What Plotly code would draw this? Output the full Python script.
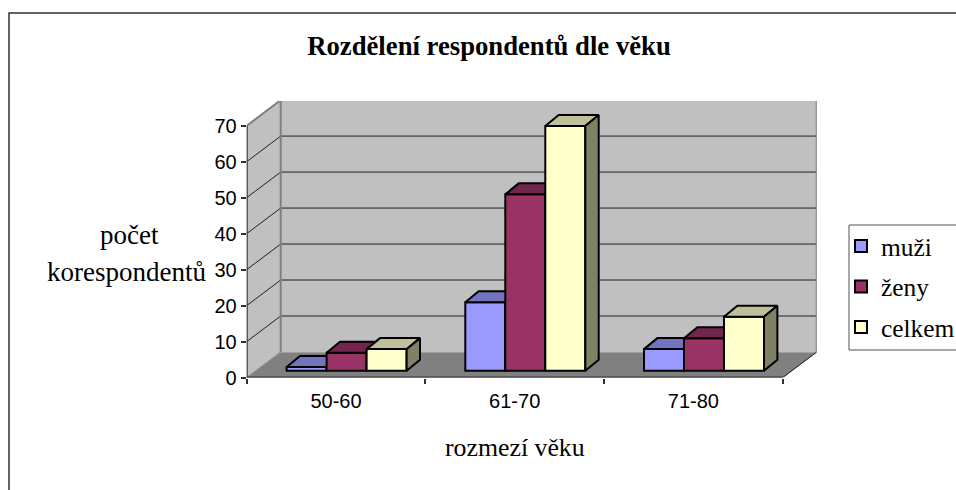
import plotly.graph_objects as go

# --- data ---
categories = ["50-60", "61-70", "71-80"]
muzi = [1, 19, 6]
zeny = [5, 49, 9]
celkem = [6, 68, 15]
series_names = ["muži", "ženy", "celkem"]
y_ticks = [0, 10, 20, 30, 40, 50, 60, 70]

# --- geometry / style ---
W, H = 956, 490
LEFT, RIGHT_FRONT, RIGHT_BACK = 246.7, 782.7, 816.7
BOTTOM, TOP_70, TOP_BACK = 377.6, 125.7, 101.0
CAT_PX = (RIGHT_FRONT - LEFT) / 3
UNIT_PX = (BOTTOM - TOP_70) / 70
DX = (RIGHT_BACK - RIGHT_FRONT) / CAT_PX      # depth of the box in category units
DY = 25.6 / UNIT_PX                           # depth of the box in value units
BAR_W = 40 / CAT_PX
BAR_SHIFT_X = 10.6 / CAT_PX
BAR_BASE = 6.9 / UNIT_PX
BAR_DX = 13.4 / CAT_PX
BAR_DY = 11 / UNIT_PX
X0, X1 = -0.5, 2.5
Y_TOP = 70
X_RANGE = [X0, X1 + DX]
Y_RANGE = [0, (BOTTOM - TOP_BACK) / UNIT_PX]
SERIF = "Liberation Serif"
SANS = "Liberation Sans"
front_cols = ["#9999FF", "#993366", "#FFFFCC"]
top_cols = ["#7373BF", "#73264D", "#BFBF99"]
side_cols = ["#4D4D80", "#4D1A33", "#808066"]
WALL, FLOOR, EDGE = "#C0C0C0", "#808080", "#808080"

fig = go.Figure()


def poly(xs, ys, fill=None, line="black", width=1.0, xa="x", ya="y"):
    fig.add_trace(go.Scatter(
        x=xs, y=ys, mode="lines", xaxis=xa, yaxis=ya, showlegend=False,
        hoverinfo="skip", cliponaxis=False,
        fill="toself" if fill else None, fillcolor=fill,
        line=dict(color=line, width=width),
    ))


# walls and floor on the main axes
poly([X0, X0 + DX, X1 + DX, X1, X0], [0, DY, DY, 0, 0], FLOOR, FLOOR, 1)
poly([X0, X0 + DX, X0 + DX, X0, X0], [0, DY, Y_TOP + DY, Y_TOP, 0], WALL, WALL, 1)
poly([X0 + DX, X1 + DX, X1 + DX, X0 + DX, X0 + DX], [DY, DY, Y_TOP + DY, Y_TOP + DY, DY], WALL, WALL, 1)
for v in y_ticks[1:-1]:
    poly([X0, X0 + DX, X1 + DX], [v, v + DY, v + DY], None, "#202020", 1)
# wall edges
poly([X0, X0 + DX, X1 + DX, X1 + DX], [Y_TOP, Y_TOP + DY, Y_TOP + DY, DY], None, EDGE, 2)
poly([X0 + DX, X0 + DX], [DY, Y_TOP + DY], None, EDGE, 2)
poly([X0, X0 + DX], [0, DY], None, EDGE, 1)
poly([X1, X1 + DX], [0, DY], None, "#202020", 1)
# axis lines
poly([X0, X0, X1], [Y_TOP, 0, 0], None, "#303030", 2)

# bars, one overlaid pair of axes per series so that later ones hide earlier faces
all_vals = [muzi, zeny, celkem]
for s, vals in enumerate(all_vals):
    xa, ya = f"x{s + 2}", f"y{s + 2}"
    xpos = [i + BAR_SHIFT_X + (s - 1) * BAR_W for i in range(len(categories))]
    fig.add_trace(go.Bar(
        x=xpos, y=vals, base=BAR_BASE, width=BAR_W, name=series_names[s],
        xaxis=xa, yaxis=ya, legendgroup=series_names[s],
        marker=dict(color=front_cols[s], line=dict(color="black", width=2)),
    ))
    for xc, v in zip(xpos, vals):
        l, r, b, t = xc - BAR_W / 2, xc + BAR_W / 2, BAR_BASE, BAR_BASE + v
        poly([l, l + BAR_DX, r + BAR_DX, r, l],
             [t, t + BAR_DY, t + BAR_DY, t, t], top_cols[s], "black", 2, xa, ya)
        poly([r, r + BAR_DX, r + BAR_DX, r, r],
             [b, b + BAR_DY, t + BAR_DY, t, b], side_cols[s], "black", 2, xa, ya)

axis_extra = dict(visible=False, fixedrange=True)
fig.update_layout(
    width=W, height=H, autosize=False,
    margin=dict(l=0, r=0, t=0, b=0, autoexpand=False),
    paper_bgcolor="white", plot_bgcolor="white",
    barmode="overlay",
    showlegend=True,
    title=dict(text="<b>Rozdělení respondentů dle věku</b>", x=489 / W, xanchor="center",
               y=1 - 46 / H, yanchor="middle", font=dict(family=SERIF, size=26.7, color="black")),
    xaxis=dict(domain=[LEFT / W, RIGHT_BACK / W], range=X_RANGE, fixedrange=True,
               tickmode="array", tickvals=[0, 1, 2], ticktext=categories,
               ticks="outside", ticklen=5, tickcolor="rgba(0,0,0,0)",
               showgrid=False, zeroline=False, showline=False,
               tickfont=dict(family=SANS, size=20, color="black"),
               minor=dict(tickmode="array", tickvals=[X0, 0.5, 1.5, X1], ticks="outside",
                          ticklen=5, tickwidth=1.5, tickcolor="#303030", showgrid=False)),
    yaxis=dict(domain=[1 - BOTTOM / H, 1 - TOP_BACK / H], range=Y_RANGE, fixedrange=True,
               tickmode="array", tickvals=y_ticks, ticks="outside", ticklen=5,
               tickwidth=1.5, tickcolor="#303030", showgrid=False, zeroline=False, showline=False,
               tickfont=dict(family=SANS, size=20, color="black")),
    xaxis2=dict(overlaying="x", range=X_RANGE, **axis_extra),
    yaxis2=dict(overlaying="y", range=Y_RANGE, **axis_extra),
    xaxis3=dict(overlaying="x", range=X_RANGE, **axis_extra),
    yaxis3=dict(overlaying="y", range=Y_RANGE, **axis_extra),
    xaxis4=dict(overlaying="x", range=X_RANGE, **axis_extra),
    yaxis4=dict(overlaying="y", range=Y_RANGE, **axis_extra),
    legend=dict(x=849 / W, y=1 - 223 / H, xanchor="left", yanchor="top",
                bgcolor="rgba(0,0,0,0)", borderwidth=0,
                font=dict(family=SERIF, size=25.4, color="black"),
                tracegroupgap=4.5, indentation=-8, traceorder="grouped"),
    annotations=[
        dict(text="počet", xref="paper", yref="paper", x=129.5 / W, y=1 - 235 / H, showarrow=False,
             xanchor="center", yanchor="middle", font=dict(family=SERIF, size=27, color="black")),
        dict(text="korespondentů", xref="paper", yref="paper", x=126 / W, y=1 - 272 / H, showarrow=False,
             xanchor="center", yanchor="middle", font=dict(family=SERIF, size=27, color="black")),
        dict(text="rozmezí věku", xref="paper", yref="paper", x=514.5 / W, y=1 - 447 / H, showarrow=False,
             xanchor="center", yanchor="middle", font=dict(family=SERIF, size=25.8, color="black")),
    ],
    shapes=[
        dict(type="rect", xref="paper", yref="paper", x0=9 / W, x1=1.02, y0=-0.02, y1=1 - 13 / H,
             line=dict(color="#303030", width=1.5), fillcolor="rgba(0,0,0,0)", layer="below"),
        dict(type="rect", xref="paper", yref="paper", x0=849 / W, x1=1.02, y0=1 - 350 / H, y1=1 - 225 / H,
             line=dict(color="#505050", width=1), fillcolor="white", layer="above"),
    ],
)

fig.write_html("out.html", config={"displayModeBar": False},
               post_script="document.body.style.margin='0';document.body.style.overflow='hidden';")
